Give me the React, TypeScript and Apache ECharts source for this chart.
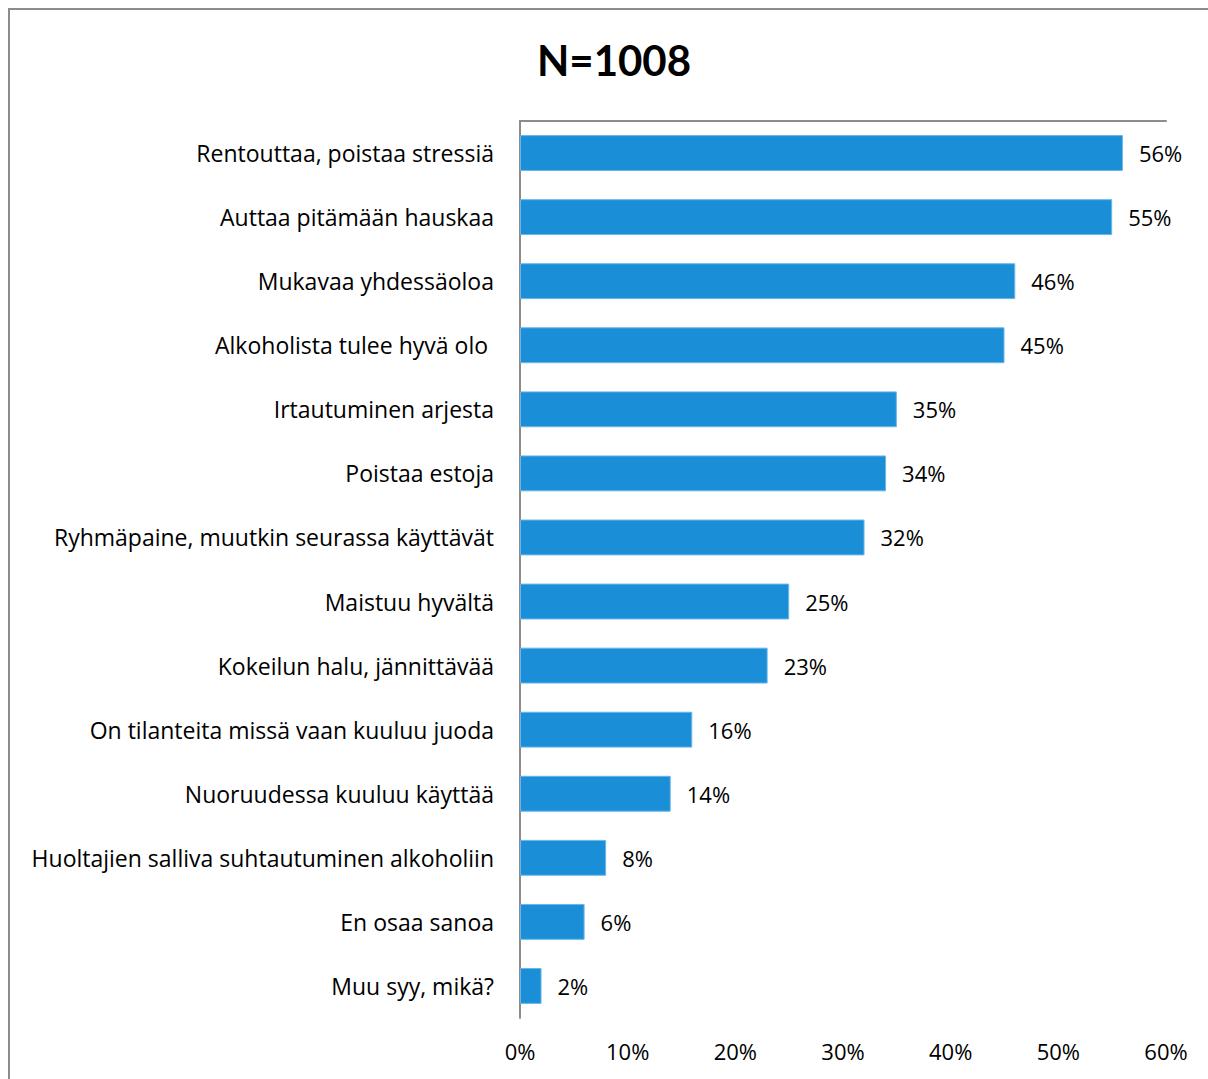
import React, { useEffect, useRef } from "react";
import * as echarts from "echarts";

const categories = [
  "Rentouttaa, poistaa stressiä",
  "Auttaa pitämään hauskaa",
  "Mukavaa yhdessäoloa",
  "Alkoholista tulee hyvä olo ",
  "Irtautuminen arjesta",
  "Poistaa estoja",
  "Ryhmäpaine, muutkin seurassa käyttävät",
  "Maistuu hyvältä",
  "Kokeilun halu, jännittävää",
  "On tilanteita missä vaan kuuluu juoda",
  "Nuoruudessa kuuluu käyttää",
  "Huoltajien salliva suhtautuminen alkoholiin",
  "En osaa sanoa",
  "Muu syy, mikä?",
];
const values = [56, 55, 46, 45, 35, 34, 32, 25, 23, 16, 14, 8, 6, 2];
const title = "N=1008";

const FONT = "'Open Sans', 'Noto Sans', sans-serif";
const TITLE_FONT = "Lato, sans-serif";

export default function App() {
  const ref = useRef<HTMLDivElement>(null);
  useEffect(() => {
    if (!ref.current) return;
    const chart = echarts.init(ref.current, null, { renderer: "svg" });
    chart.setOption({
      animation: false,
      backgroundColor: "#ffffff",
      graphic: [
        {
          type: "rect",
          shape: { x: 9, y: 9, width: 1260, height: 1120 },
          style: { fill: "none", stroke: "#8c8c8c", lineWidth: 2 },
          silent: true,
        },
        {
          type: "text",
          x: 614,
          y: 60,
          style: {
            text: title,
            fontFamily: TITLE_FONT,
            fontWeight: "bold",
            fontSize: 42,
            fill: "#000",
            align: "center",
            verticalAlign: "middle",
          },
          silent: true,
        },
      ],
      grid: { left: 520, right: 42, top: 121, bottom: 61, containLabel: false },
      xAxis: [
        {
          type: "value",
          position: "bottom",
          min: 0,
          max: 60,
          interval: 10,
          axisLine: { show: false },
          axisTick: { show: false },
          splitLine: { show: false },
          axisLabel: {
            formatter: "{value}%",
            fontFamily: FONT,
            fontSize: 22,
            color: "#000",
            margin: 22,
          },
        },
        {
          type: "value",
          position: "top",
          min: 0,
          max: 60,
          interval: 10,
          axisLine: { show: true, lineStyle: { color: "#8c8c8c", width: 2 } },
          axisTick: { show: false },
          splitLine: { show: false },
          axisLabel: { show: false },
        },
      ],
      yAxis: {
        type: "category",
        inverse: true,
        data: categories,
        axisLine: { show: true, lineStyle: { color: "#8c8c8c", width: 2 } },
        axisTick: { show: false },
        axisLabel: {
          fontFamily: FONT,
          fontSize: 23,
          color: "#000",
          margin: 26,
        },
      },
      series: [
        {
          type: "bar",
          xAxisIndex: 0,
          data: values,
          barWidth: "56%",
          itemStyle: { color: "#1a8fd8", borderColor: "#6bb6e8", borderWidth: 1 },
          label: {
            show: true,
            position: "right",
            distance: 16,
            formatter: "{c}%",
            fontFamily: FONT,
            fontSize: 22,
            color: "#000",
          },
        },
      ],
    });
    return () => chart.dispose();
  }, []);
  return (
    <div
      ref={ref}
      style={{ position: "absolute", left: 0, top: 0, width: 1208, height: 1079, overflow: "hidden" }}
    />
  );
}
